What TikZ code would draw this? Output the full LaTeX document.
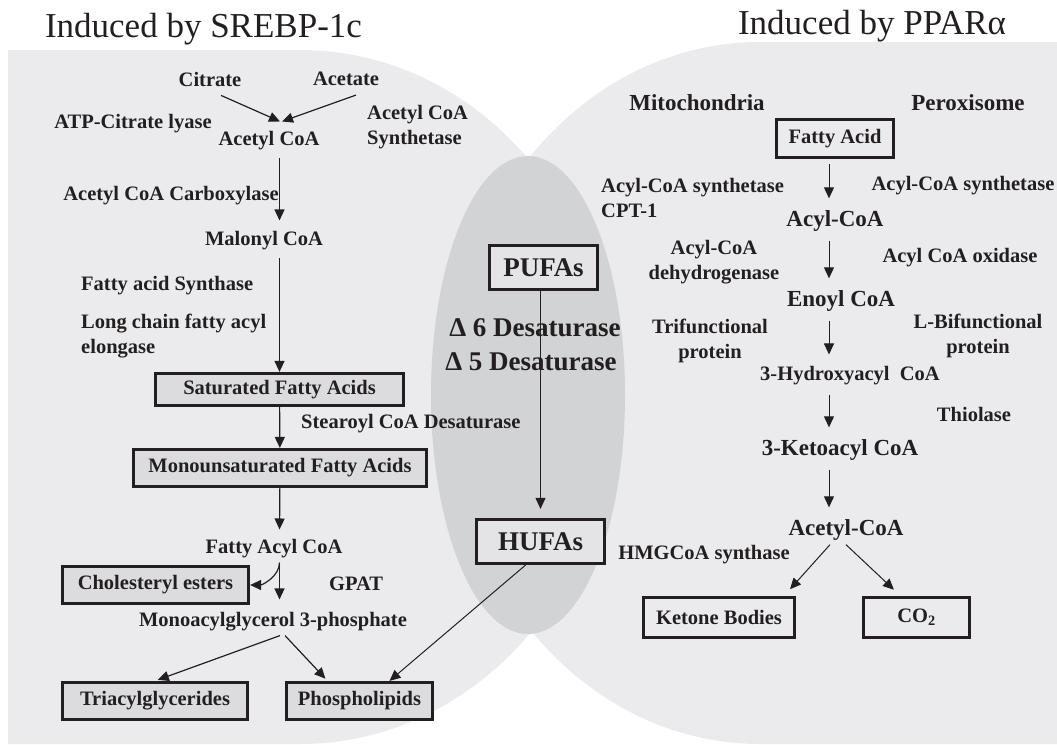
\documentclass[tikz,border=0pt]{standalone}
\usepackage{fontspec}
\setmainfont{Liberation Serif}
\usetikzlibrary{arrows.meta}

\definecolor{ink}{RGB}{35,31,32}
\definecolor{regiongray}{RGB}{235,235,237}
\definecolor{overlapgray}{RGB}{210,211,213}
\definecolor{poolgray}{RGB}{220,220,222}
\definecolor{pufagray}{RGB}{228,228,230}

\tikzset{
  lbl/.style={font=\bfseries\fontsize{20.5}{24.5}\selectfont, text=ink, inner sep=4pt},
  biglbl/.style={font=\bfseries\fontsize{23}{26}\selectfont, text=ink, inner sep=4pt},
  deslbl/.style={font=\bfseries\fontsize{27}{34}\selectfont, text=ink, inner sep=4pt},
  title/.style={font=\fontsize{35}{40}\selectfont, text=ink, anchor=base},
  pool/.style={lbl, draw=ink, line width=3.2pt, inner sep=0pt, fill=poolgray},
  arr/.style={-{Triangle[length=11pt,width=10pt]}, draw=ink, line width=1.2pt},
  chain/.style={arr, line width=1pt, shorten <=5pt, shorten >=8pt},
}

\begin{document}
\begin{tikzpicture}[x=1pt,y=-1pt]
  \useasboundingbox (0,0) rectangle (1057,744);
  % the two regions and their overlap
  \fill[regiongray] (8,50) -- (300,50) arc[start angle=-90, end angle=90, x radius=314, y radius=347] -- (8,744) -- cycle;
  \fill[regiongray] (1057,42) -- (760,42) arc[start angle=-90, end angle=-270, x radius=311, y radius=351] -- (1057,744) -- cycle;
  \fill[overlapgray] (528,395) ellipse[x radius=97, y radius=239];

  \node[title] (srebp) at (203.5,37) {Induced by SREBP-1c};
  \node[title] (ppar) at (872,34) {Induced by PPARα};

  % lipogenesis
  \node[lbl] (citrate) at (210,79) {Citrate};
  \node[lbl] (acetate) at (346,79) {Acetate};
  \node[lbl] (atp) at (133,124) {ATP-Citrate lyase};
  \node[lbl] (acetylcoa) at (269,141) {Acetyl CoA};
  \node[lbl, align=left, anchor=west] (acs) at (363,127) {Acetyl CoA\\Synthetase};
  \node[lbl] (acc) at (171,196) {Acetyl CoA Carboxylase};
  \node[lbl] (malonyl) at (264,241) {Malonyl CoA};
  \node[lbl, anchor=west] (fas) at (77,286) {Fatty acid Synthase};
  \node[lbl, align=left, anchor=west] (elovl) at (77,336) {Long chain fatty acyl\\elongase};
  \node[pool, minimum width=248, minimum height=32] (sat) at (279.5,389.5) {Saturated Fatty Acids};
  \node[lbl, anchor=west] (scd) at (297,424) {Stearoyl CoA Desaturase};
  \node[pool, minimum width=293, minimum height=37] (mono) at (280,468) {Monounsaturated Fatty Acids};
  \node[lbl] (facoa) at (274,549) {Fatty Acyl CoA};
  \node[pool, minimum width=186, minimum height=37] (chol) at (155.5,585) {Cholesteryl esters};
  \node[lbl] (gpat) at (356,584) {GPAT};
  \node[lbl] (mag) at (273,622) {Monoacylglycerol 3-phosphate};
  \node[pool, minimum width=185, minimum height=37] (tag) at (155,701) {Triacylglycerides};
  \node[pool, minimum width=146, minimum height=37] (pl) at (359.5,701) {Phospholipids};

  % desaturation
  \node[pool, deslbl, fill=pufagray, minimum width=108, minimum height=44] (pufa) at (543.5,267.5) {PUFAs};
  \node[deslbl] (d6) at (535,328) {Δ 6 Desaturase};
  \node[deslbl] (d5) at (531,362) {Δ 5 Desaturase};
  \node[pool, deslbl, fill=pufagray, minimum width=128, minimum height=44] (hufa) at (540.5,541.5) {HUFAs};

  % beta oxidation
  \node[biglbl] (mito) at (697,103) {Mitochondria};
  \node[biglbl] (perox) at (968,103) {Peroxisome};
  \node[pool, fill=regiongray, minimum width=117, minimum height=38] (fa) at (835,138.5) {Fatty Acid};
  \node[lbl, align=left, anchor=west] (acsm) at (597,198) {Acyl-CoA synthetase\\CPT-1};
  \node[lbl] (acsp) at (963,186) {Acyl-CoA synthetase};
  \node[biglbl] (acyl) at (835,221) {Acyl-CoA};
  \node[lbl, align=center] (acad) at (714,262) {Acyl-CoA\\dehydrogenase};
  \node[lbl] (acox) at (960,258) {Acyl CoA oxidase};
  \node[biglbl] (enoyl) at (841,301) {Enoyl CoA};
  \node[lbl, align=center] (tfp) at (710,341) {Trifunctional\\protein};
  \node[lbl, align=center] (lbp) at (978,336) {L-Bifunctional\\protein};
  \node[lbl] (hydroxy) at (850,376) {3-Hydroxyacyl\enspace CoA};
  \node[lbl] (thiolase) at (974,414) {Thiolase};
  \node[biglbl] (keto) at (840,450) {3-Ketoacyl CoA};
  \node[biglbl] (acetyl) at (846,530) {Acetyl-CoA};
  \node[lbl] (hmg) at (704,555) {HMGCoA synthase};
  \node[pool, fill=regiongray, minimum width=151, minimum height=40] (ketone) at (719,617.5) {Ketone Bodies};
  \node[pool, fill=regiongray, minimum width=106, minimum height=40] (co2) at (916.5,617.5) {CO\textsubscript{2}};
  \coordinate (axis) at (829,0);

  % arrows, left
  \draw[arr] ([xshift=11pt,yshift=-5pt]citrate.south) -- ([xshift=11pt,yshift=6pt]acetylcoa.north);
  \draw[arr] ([xshift=10pt,yshift=-5pt]acetate.south) -- ([xshift=13pt,yshift=6pt]acetylcoa.north);
  \draw[arr, shorten <=3pt, shorten >=7pt] (acetylcoa.south -| sat) -- (malonyl.north -| sat);
  \draw[arr, shorten <=3pt] (malonyl.south -| sat) -- (sat);
  \draw[arr] (sat) -- (mono);
  \draw[arr, shorten >=6pt] (mono) -- (facoa.north -| sat);
  \draw[arr, shorten >=9pt] (facoa.south -| sat) -- (mag.north -| sat);
  \draw[arr] (facoa.south -| sat) .. controls +(0,14) and +(12,0) .. (chol.east);
  \draw[arr, shorten >=3pt] ([xshift=7pt]mag.south) -- (tag.north);
  \draw[arr, shorten >=3pt] ([xshift=12pt]mag.south) -- ([xshift=-32pt]pl.north);
  \draw[arr, line width=1pt] ([xshift=-15pt]hufa.south) -- ([xshift=30pt]pl.north);
  \draw[arr, line width=1pt, shorten >=9pt] (pufa.south -| hufa) -- (hufa);

  % arrows, right
  \draw[chain] (fa.south -| axis) -- (acyl.north -| axis);
  \draw[chain] (acyl.south -| axis) -- (enoyl.north -| axis);
  \draw[chain] (enoyl.south -| axis) -- (hydroxy.north -| axis);
  \draw[chain] (hydroxy.south -| axis) -- (keto.north -| axis);
  \draw[chain] (keto.south -| axis) -- (acetyl.north -| axis);
  \draw[arr, line width=1pt, shorten >=9pt] ([xshift=-16pt]acetyl.south) -- ([xshift=65pt]ketone.north);
  \draw[arr, line width=1pt, shorten >=9pt] (acetyl.south) -- ([xshift=-16pt]co2.north);
\end{tikzpicture}
\end{document}
